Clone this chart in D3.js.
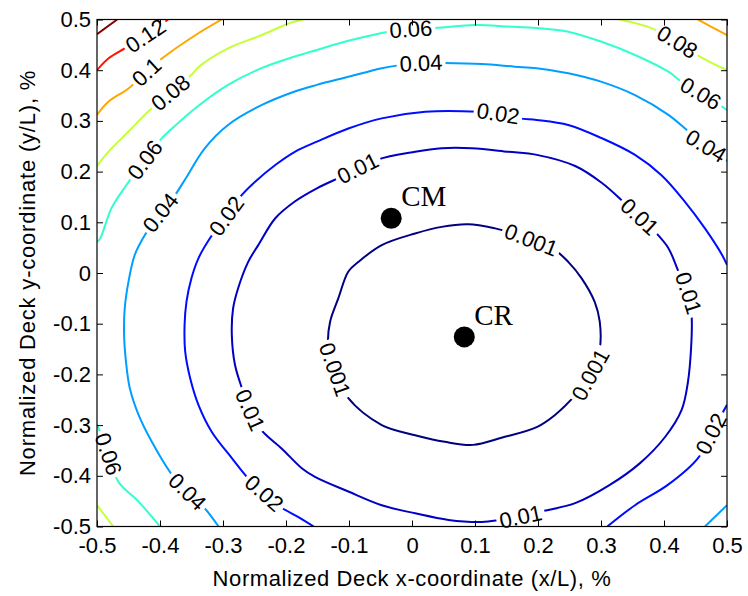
<!DOCTYPE html>
<html>
<head>
<meta charset="utf-8">
<script src="https://cdn.jsdelivr.net/npm/d3@7"></script>
<style>
  body { margin: 0; background: #fff; }
  text { font-family: "Liberation Sans", Arial, sans-serif; fill: #000; }
</style>
</head>
<body>
<svg id="chart" width="748" height="596"></svg>
<script>
// Axis ticks
const xTicks = [-0.5, -0.4, -0.3, -0.2, -0.1, 0, 0.1, 0.2, 0.3, 0.4, 0.5];
const yTicks = [-0.5, -0.4, -0.3, -0.2, -0.1, 0, 0.1, 0.2, 0.3, 0.4, 0.5];

// Contour levels (colour range runs from the lowest to the highest level)
const levels = [0.001, 0.01, 0.02, 0.04, 0.06, 0.08, 0.1, 0.12, 0.14];

// Contour lines, [x/L, y/L] in %
const c001 = [[-0.133,-0.139],[-0.130,-0.096],[-0.117,-0.050],[-0.101,0.003],[-0.085,0.022],[-0.048,0.055],[0.005,0.078],[0.047,0.091],[0.089,0.096],[0.132,0.088],[0.153,0.081],[0.190,0.065],[0.230,0.042],[0.248,0.022],[0.269,-0.010],[0.290,-0.057],[0.298,-0.096],[0.298,-0.149],[0.283,-0.201],[0.259,-0.241],[0.227,-0.280],[0.198,-0.304],[0.142,-0.325],[0.097,-0.339],[0.052,-0.333],[0.005,-0.320],[-0.048,-0.300],[-0.101,-0.247],[-0.121,-0.195]];
const c010 = [[-0.112,0.190],[-0.056,0.223],[0.005,0.239],[0.047,0.246],[0.095,0.246],[0.153,0.239],[0.198,0.233],[0.259,0.211],[0.301,0.178],[0.335,0.141],[0.386,0.081],[0.407,0.049],[0.423,0.003],[0.440,-0.043],[0.444,-0.089],[0.443,-0.148],[0.438,-0.215],[0.428,-0.270],[0.402,-0.323],[0.362,-0.375],[0.314,-0.418],[0.259,-0.454],[0.203,-0.471],[0.171,-0.481],[0.140,-0.487],[0.111,-0.491],[0.058,-0.487],[0.005,-0.474],[-0.048,-0.458],[-0.101,-0.431],[-0.154,-0.402],[-0.175,-0.385],[-0.207,-0.346],[-0.239,-0.310],[-0.257,-0.270],[-0.270,-0.227],[-0.281,-0.181],[-0.286,-0.122],[-0.284,-0.070],[-0.276,-0.030],[-0.260,0.022],[-0.244,0.055],[-0.217,0.108],[-0.186,0.141],[-0.151,0.167]];
const c020a = [[-0.156,-0.500],[-0.181,-0.481],[-0.208,-0.462],[-0.233,-0.436],[-0.260,-0.405],[-0.286,-0.365],[-0.318,-0.313],[-0.339,-0.260],[-0.352,-0.208],[-0.360,-0.155],[-0.361,-0.103],[-0.358,-0.057],[-0.350,-0.010],[-0.339,0.029],[-0.321,0.068],[-0.295,0.112],[-0.270,0.154],[-0.249,0.180],[-0.217,0.213],[-0.186,0.239],[-0.151,0.259],[-0.101,0.285],[-0.048,0.305],[0.021,0.318],[0.105,0.318],[0.140,0.314],[0.171,0.305],[0.198,0.302],[0.248,0.292],[0.301,0.266],[0.354,0.233],[0.396,0.193],[0.433,0.141],[0.465,0.088],[0.492,0.036],[0.500,0.016]];
const c020b = [[0.500,-0.260],[0.476,-0.314],[0.454,-0.365],[0.406,-0.418],[0.354,-0.458],[0.310,-0.500]];
const c040a = [[-0.307,-0.500],[-0.329,-0.464],[-0.356,-0.432],[-0.381,-0.398],[-0.413,-0.333],[-0.434,-0.280],[-0.448,-0.227],[-0.454,-0.175],[-0.457,-0.122],[-0.456,-0.070],[-0.450,-0.017],[-0.440,0.036],[-0.424,0.075],[-0.400,0.118],[-0.376,0.154],[-0.359,0.187],[-0.329,0.246],[-0.292,0.292],[-0.239,0.331],[-0.186,0.358],[-0.151,0.371],[-0.101,0.387],[-0.048,0.404],[-0.019,0.410],[0.014,0.414],[0.050,0.414],[0.111,0.412],[0.163,0.407],[0.198,0.404],[0.248,0.394],[0.301,0.377],[0.354,0.351],[0.407,0.312],[0.439,0.279],[0.465,0.252],[0.494,0.233],[0.500,0.220]];
const c040b = [[0.500,-0.458],[0.465,-0.500]];
const c060a = [[-0.500,0.061],[-0.495,0.068],[-0.477,0.128],[-0.453,0.174],[-0.424,0.223],[-0.397,0.266],[-0.387,0.278],[-0.344,0.325],[-0.292,0.371],[-0.239,0.404],[-0.186,0.427],[-0.151,0.440],[-0.101,0.458],[-0.038,0.476],[-0.002,0.481],[0.037,0.483],[0.100,0.489],[0.153,0.486],[0.198,0.483],[0.248,0.476],[0.301,0.456],[0.354,0.430],[0.407,0.397],[0.428,0.377],[0.457,0.355],[0.489,0.331],[0.500,0.321]];
const c060b = [[-0.500,-0.298],[-0.483,-0.353],[-0.466,-0.412],[-0.434,-0.451],[-0.400,-0.500]];
const c080a = [[-0.500,0.211],[-0.482,0.239],[-0.450,0.279],[-0.419,0.318],[-0.384,0.355],[-0.350,0.391],[-0.337,0.408],[-0.292,0.443],[-0.239,0.469],[-0.196,0.492],[-0.173,0.500]];
const c080b = [[0.330,0.500],[0.380,0.483],[0.421,0.456],[0.457,0.427],[0.500,0.400]];
const c080c = [[-0.500,-0.458],[-0.474,-0.500]];
const c100a = [[-0.500,0.312],[-0.482,0.338],[-0.450,0.364],[-0.422,0.396],[-0.397,0.423],[-0.344,0.469],[-0.302,0.500]];
const c100b = [[0.454,0.500],[0.476,0.485],[0.500,0.469]];
const c120 = [[-0.500,0.400],[-0.482,0.423],[-0.456,0.443],[-0.424,0.467],[-0.395,0.493],[-0.387,0.500]];
const c140 = [[-0.500,0.471],[-0.468,0.500]];

const contourLines = [
  { level: 0.001, points: c001, closed: true },
  { level: 0.01, points: c010, closed: true },
  { level: 0.02, points: c020a, closed: false },
  { level: 0.02, points: c020b, closed: false },
  { level: 0.04, points: c040a, closed: false },
  { level: 0.04, points: c040b, closed: false },
  { level: 0.06, points: c060a, closed: false },
  { level: 0.06, points: c060b, closed: false },
  { level: 0.08, points: c080a, closed: false },
  { level: 0.08, points: c080b, closed: false },
  { level: 0.08, points: c080c, closed: false },
  { level: 0.1, points: c100a, closed: false },
  { level: 0.1, points: c100b, closed: false },
  { level: 0.12, points: c120, closed: false },
  { level: 0.14, points: c140, closed: false }
];

// Inline contour labels: [level, x/L, y/L]
const contourLabels = [
  [0.001, 0.190, 0.065], [0.001, 0.283, -0.201], [0.001, -0.121, -0.190],
  [0.01, -0.084, 0.203], [0.01, 0.360, 0.110], [0.01, 0.435, -0.041], [0.01, 0.171, -0.477], [0.01, -0.256, -0.270],
  [0.02, 0.137, 0.312], [0.02, -0.295, 0.112], [0.02, -0.235, -0.436], [0.02, 0.476, -0.318],
  [0.04, 0.014, 0.414], [0.04, -0.398, 0.118], [0.04, -0.357, -0.432], [0.04, 0.467, 0.250],
  [0.06, -0.002, 0.477], [0.06, -0.424, 0.223], [0.06, 0.457, 0.353], [0.06, -0.486, -0.359],
  [0.08, -0.384, 0.355], [0.08, 0.421, 0.456],
  [0.1, -0.422, 0.396],
  [0.12, -0.422, 0.465]
];

// Centre of mass and centre of rigidity
const pointNames = ["CM", "CR"];
const pointX = [-0.033, 0.083];
const pointY = [0.108, -0.126];

const W = 748, H = 596;
const svg = d3.select("#chart");
const x = d3.scaleLinear().domain([-0.5, 0.5]).range([97, 727]);
const y = d3.scaleLinear().domain([-0.5, 0.5]).range([526.5, 19.5]);

// MATLAB-style jet colormap
function jet(t) {
  const c = v => Math.max(0, Math.min(1, v));
  const r = c(Math.min(4 * t - 1.5, -4 * t + 4.5));
  const g = c(Math.min(4 * t - 0.5, -4 * t + 3.5));
  const b = c(Math.min(4 * t + 0.5, -4 * t + 2.5));
  return d3.rgb(255 * r, 255 * g, 255 * b).formatHex();
}
const lo = d3.min(levels), hi = d3.max(levels);
const color = v => jet((v - lo) / (hi - lo));

const defs = svg.append("defs");
defs.append("clipPath").attr("id", "plotArea")
  .append("rect").attr("x", x(-0.5)).attr("y", y(0.5))
  .attr("width", x(0.5) - x(-0.5)).attr("height", y(-0.5) - y(0.5));
const gapMask = defs.append("mask").attr("id", "labelGaps")
  .attr("maskUnits", "userSpaceOnUse")
  .attr("x", 0).attr("y", 0).attr("width", W).attr("height", H);
gapMask.append("rect").attr("width", W).attr("height", H).attr("fill", "#fff");

// Contour lines
const lineLayer = svg.append("g").attr("clip-path", "url(#plotArea)")
  .append("g").attr("mask", "url(#labelGaps)");
const openLine = d3.line().x(d => x(d[0])).y(d => y(d[1])).curve(d3.curveCatmullRom.alpha(0.5));
const closedLine = d3.line().x(d => x(d[0])).y(d => y(d[1])).curve(d3.curveCatmullRomClosed.alpha(0.5));

const paths = lineLayer.selectAll("path").data(contourLines).join("path")
  .attr("d", d => (d.closed ? closedLine : openLine)(d.points))
  .attr("fill", "none")
  .attr("stroke", d => color(d.level))
  .attr("stroke-width", 2)
  .attr("stroke-linejoin", "round");

// Sample each drawn contour so labels can sit on it and follow its direction
const sampled = [];
paths.each(function (d) {
  const len = this.getTotalLength();
  const pts = [];
  for (let s = 0; s <= len; s += 1) {
    const p = this.getPointAtLength(s);
    pts.push([p.x, p.y]);
  }
  sampled.push({ level: d.level, closed: d.closed, pts });
});

function placeLabel(level, lx, ly) {
  const px = x(lx), py = y(ly);
  let best = null;
  sampled.filter(s => s.level === level).forEach(s => {
    s.pts.forEach((p, i) => {
      const dd = (p[0] - px) ** 2 + (p[1] - py) ** 2;
      if (!best || dd < best.dd) best = { dd, s, i };
    });
  });
  const { s, i } = best;
  const n = s.pts.length, k = 12;
  const idx = j => s.closed ? ((j % n) + n) % n : Math.max(0, Math.min(n - 1, j));
  const a = s.pts[idx(i - k)], b = s.pts[idx(i + k)];
  let ang = Math.atan2(b[1] - a[1], b[0] - a[0]) * 180 / Math.PI;
  if (ang > 90) ang -= 180;
  if (ang < -90) ang += 180;
  return { cx: s.pts[i][0], cy: s.pts[i][1], ang };
}

const labelSize = 22;
const labelLayer = svg.append("g");
contourLabels.forEach(([level, lx, ly]) => {
  const p = placeLabel(level, lx, ly);
  const tf = `translate(${p.cx},${p.cy}) rotate(${p.ang})`;
  const t = labelLayer.append("text")
    .attr("transform", tf)
    .attr("text-anchor", "middle")
    .attr("dy", "0.35em")
    .style("font-size", labelSize + "px")
    .text(String(level));
  const w = t.node().getComputedTextLength();
  gapMask.append("rect")
    .attr("transform", tf)
    .attr("x", -w / 2 - 3).attr("y", -labelSize * 0.42)
    .attr("width", w + 6).attr("height", labelSize * 0.84)
    .attr("fill", "#000");
});

// Axes with inward ticks on all four sides
const fmt = d => String(d);
const tickSize = 6;
svg.append("g").attr("transform", `translate(0,${y(-0.5)})`)
  .call(d3.axisBottom(x).tickValues(xTicks).tickFormat(fmt).tickSize(-tickSize).tickPadding(11))
  .call(g => g.select(".domain").remove())
  .call(g => g.selectAll("text").style("font-size", "22px").attr("fill", "#000").style("font-family", "Liberation Sans, Arial, sans-serif"));
svg.append("g").attr("transform", `translate(${x(-0.5)},0)`)
  .call(d3.axisLeft(y).tickValues(yTicks).tickFormat(fmt).tickSize(-tickSize).tickPadding(6))
  .call(g => g.select(".domain").remove())
  .call(g => g.selectAll("text").style("font-size", "22px").attr("fill", "#000").style("font-family", "Liberation Sans, Arial, sans-serif"));
svg.append("g").attr("transform", `translate(0,${y(0.5)})`)
  .call(d3.axisTop(x).tickValues(xTicks).tickFormat("").tickSize(-tickSize))
  .call(g => g.select(".domain").remove());
svg.append("g").attr("transform", `translate(${x(0.5)},0)`)
  .call(d3.axisRight(y).tickValues(yTicks).tickFormat("").tickSize(-tickSize))
  .call(g => g.select(".domain").remove());
svg.selectAll(".tick line").attr("stroke", "#000").attr("stroke-width", 1);

svg.append("rect")
  .attr("x", x(-0.5)).attr("y", y(0.5))
  .attr("width", x(0.5) - x(-0.5)).attr("height", y(-0.5) - y(0.5))
  .attr("fill", "none").attr("stroke", "#000").attr("stroke-width", 1.2);

// Axis titles
svg.append("text")
  .attr("x", (x(-0.5) + x(0.5)) / 2).attr("y", 586)
  .attr("text-anchor", "middle")
  .style("font-size", "22px").style("letter-spacing", "0.6px")
  .text("Normalized Deck x-coordinate (x/L), %");
svg.append("text")
  .attr("transform", `translate(35,${(y(-0.5) + y(0.5)) / 2}) rotate(-90)`)
  .attr("text-anchor", "middle")
  .style("font-size", "22px").style("letter-spacing", "0.8px")
  .text("Normalized Deck y-coordinate (y/L), %");

// CM and CR markers
const markers = svg.append("g");
pointNames.forEach((name, i) => {
  markers.append("circle")
    .attr("cx", x(pointX[i])).attr("cy", y(pointY[i])).attr("r", 10.5)
    .attr("fill", "#000");
  markers.append("text")
    .attr("x", x(pointX[i]) + 10).attr("y", y(pointY[i]) - 12)
    .style("font-family", "Liberation Serif, Times New Roman, serif")
    .style("font-size", "29px")
    .text(name);
});
</script>
</body>
</html>
